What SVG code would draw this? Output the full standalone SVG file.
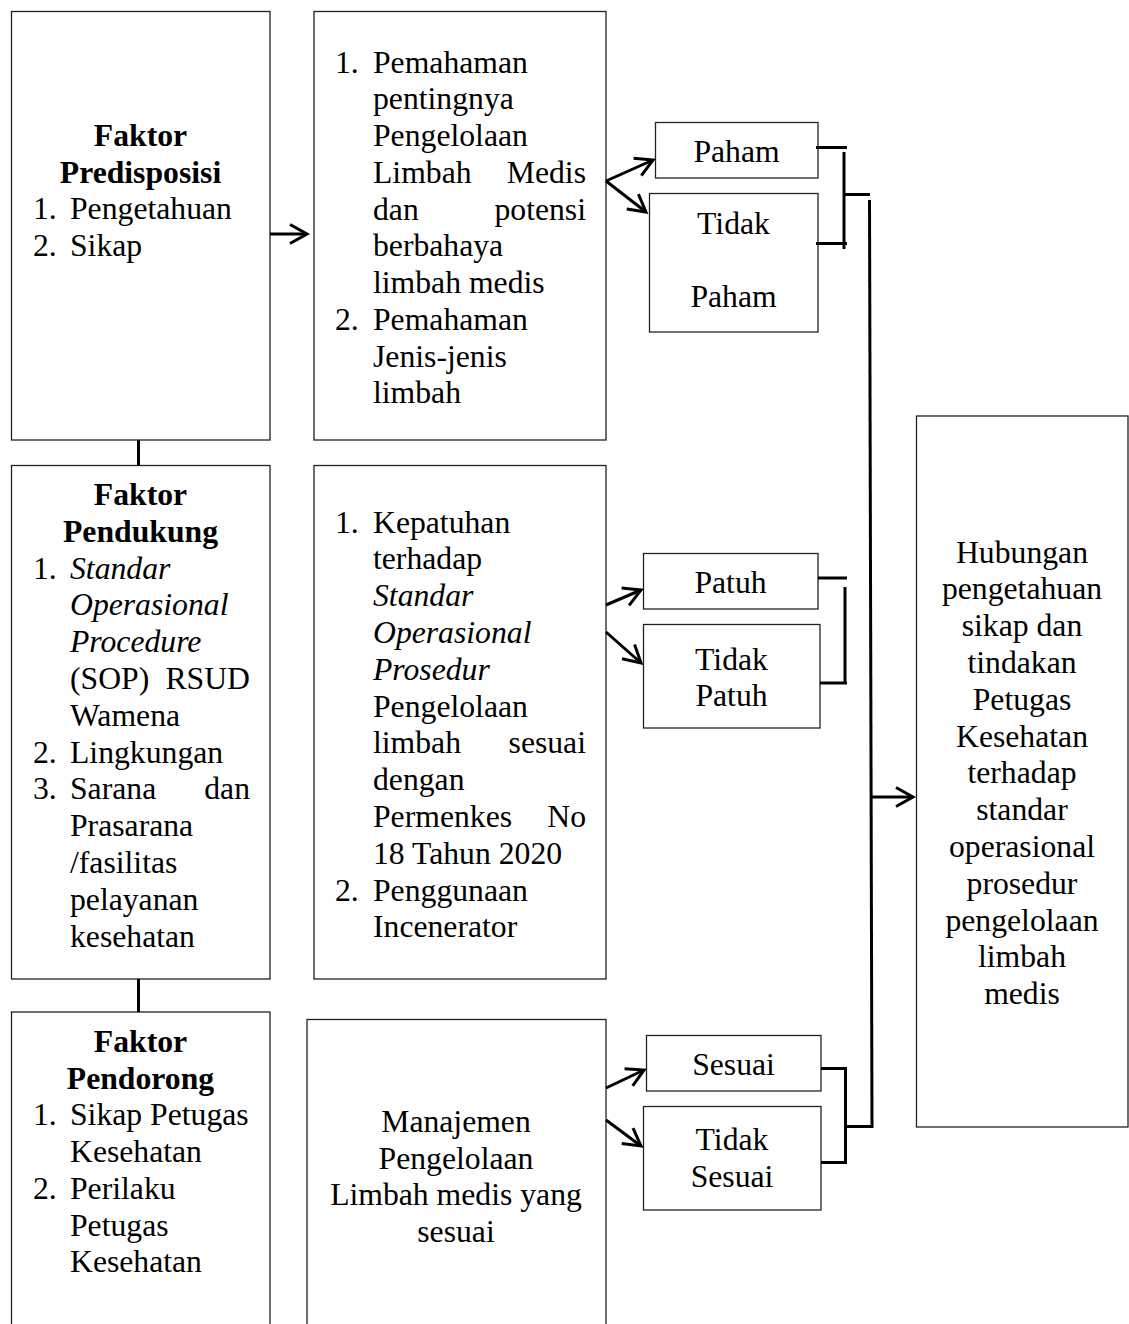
<svg xmlns="http://www.w3.org/2000/svg" width="1129" height="1324" viewBox="0 0 1129 1324">
<style>
  .box { fill: #fff; stroke: #222; stroke-width: 1.3; }
  text { font-family: "Liberation Serif", "Times New Roman", serif; font-size: 31.7px; fill: #000; }
  .b { font-weight: bold; }
  .i { font-style: italic; }
  .c { text-anchor: middle; }
  .e { text-anchor: end; }
  .con { stroke: #000; stroke-width: 3; fill: none; }
</style>
<defs>
  <marker id="arr" markerUnits="userSpaceOnUse" markerWidth="30" markerHeight="30" refX="20" refY="12" orient="auto">
    <path d="M3,2.5 L20,12 L3,21.5" fill="none" stroke="#000" stroke-width="3"/>
  </marker>
</defs>
<rect width="1129" height="1324" fill="#fff"/>

<g id="faktor-predisposisi">
  <rect class="box" x="11.5" y="11.5" width="258.5" height="428.5"/>
  <text class="b c" x="140.5" y="146">Faktor</text>
  <text class="b c" x="140.5" y="182.5">Predisposisi</text>
  <text x="33" y="219">1.</text><text x="70" y="219">Pengetahuan</text>
  <text x="33" y="255.5">2.</text><text x="70" y="255.5">Sikap</text>
</g>

<g id="pemahaman">
  <rect class="box" x="314" y="11.5" width="292" height="428.5"/>
  <text x="335" y="72.5">1.</text><text x="373" y="72.5">Pemahaman</text>
  <text x="373" y="109.3">pentingnya</text>
  <text x="373" y="146">Pengelolaan</text>
  <text x="373" y="182.8">Limbah</text><text class="e" x="586" y="182.8">Medis</text>
  <text x="373" y="219.5">dan</text><text class="e" x="586" y="219.5">potensi</text>
  <text x="373" y="256.3">berbahaya</text>
  <text x="373" y="293">limbah medis</text>
  <text x="335" y="329.8">2.</text><text x="373" y="329.8">Pemahaman</text>
  <text x="373" y="366.5">Jenis-jenis</text>
  <text x="373" y="403.3">limbah</text>
</g>

<g id="paham">
  <rect class="box" x="655.5" y="122.5" width="162.5" height="55.5"/>
  <text class="c" x="736.5" y="162">Paham</text>
</g>
<g id="tidak-paham">
  <rect class="box" x="649.5" y="193.5" width="168.5" height="138.5"/>
  <text class="c" x="733.5" y="234">Tidak</text>
  <text class="c" x="733.5" y="306.5">Paham</text>
</g>

<g id="faktor-pendukung">
  <rect class="box" x="11.5" y="465.5" width="258.5" height="513.5"/>
  <text class="b c" x="140.5" y="505">Faktor</text>
  <text class="b c" x="140.5" y="541.8">Pendukung</text>
  <text x="33" y="578.6">1.</text><text class="i" x="70" y="578.6">Standar</text>
  <text class="i" x="70" y="615.4">Operasional</text>
  <text class="i" x="70" y="652.2">Procedure</text>
  <text x="70" y="689">(SOP)</text><text class="e" x="250" y="689">RSUD</text>
  <text x="70" y="725.8">Wamena</text>
  <text x="33" y="762.6">2.</text><text x="70" y="762.6">Lingkungan</text>
  <text x="33" y="799.4">3.</text><text x="70" y="799.4">Sarana</text><text class="e" x="250" y="799.4">dan</text>
  <text x="70" y="836.2">Prasarana</text>
  <text x="70" y="873">/fasilitas</text>
  <text x="70" y="909.8">pelayanan</text>
  <text x="70" y="946.6">kesehatan</text>
</g>

<g id="kepatuhan">
  <rect class="box" x="314" y="465.5" width="292" height="513.5"/>
  <text x="335" y="532.5">1.</text><text x="373" y="532.5">Kepatuhan</text>
  <text x="373" y="569.3">terhadap</text>
  <text class="i" x="373" y="606.1">Standar</text>
  <text class="i" x="373" y="642.9">Operasional</text>
  <text class="i" x="373" y="679.7">Prosedur</text>
  <text x="373" y="716.5">Pengelolaan</text>
  <text x="373" y="753.3">limbah</text><text class="e" x="586" y="753.3">sesuai</text>
  <text x="373" y="790.1">dengan</text>
  <text x="373" y="826.9">Permenkes</text><text class="e" x="586" y="826.9">No</text>
  <text x="373" y="863.7">18 Tahun 2020</text>
  <text x="335" y="900.5">2.</text><text x="373" y="900.5">Penggunaan</text>
  <text x="373" y="937.3">Incenerator</text>
</g>

<g id="patuh">
  <rect class="box" x="643.5" y="553.5" width="174.5" height="55.5"/>
  <text class="c" x="730.5" y="593">Patuh</text>
</g>
<g id="tidak-patuh">
  <rect class="box" x="643.5" y="624.5" width="176.5" height="103.5"/>
  <text class="c" x="731.5" y="669.5">Tidak</text>
  <text class="c" x="731.5" y="706">Patuh</text>
</g>

<g id="faktor-pendorong">
  <rect class="box" x="11.5" y="1012" width="258.5" height="330"/>
  <text class="b c" x="140.5" y="1052">Faktor</text>
  <text class="b c" x="140.5" y="1088.7">Pendorong</text>
  <text x="33" y="1125.4">1.</text><text x="70" y="1125.4">Sikap Petugas</text>
  <text x="70" y="1162.1">Kesehatan</text>
  <text x="33" y="1198.8">2.</text><text x="70" y="1198.8">Perilaku</text>
  <text x="70" y="1235.5">Petugas</text>
  <text x="70" y="1272.2">Kesehatan</text>
</g>

<g id="manajemen">
  <rect class="box" x="307" y="1019.5" width="299" height="330"/>
  <text class="c" x="456" y="1132">Manajemen</text>
  <text class="c" x="456" y="1168.7">Pengelolaan</text>
  <text class="c" x="456" y="1205.4">Limbah medis yang</text>
  <text class="c" x="456" y="1242.1">sesuai</text>
</g>

<g id="sesuai">
  <rect class="box" x="646.5" y="1035.5" width="174.5" height="55.5"/>
  <text class="c" x="733.5" y="1074.5">Sesuai</text>
</g>
<g id="tidak-sesuai">
  <rect class="box" x="643.5" y="1106.5" width="177.5" height="103.5"/>
  <text class="c" x="732" y="1150">Tidak</text>
  <text class="c" x="732" y="1187">Sesuai</text>
</g>

<g id="hubungan">
  <rect class="box" x="916.5" y="416" width="211.5" height="711"/>
  <text class="c" x="1022" y="562.5">Hubungan</text>
  <text class="c" x="1022" y="599.3">pengetahuan</text>
  <text class="c" x="1022" y="636.1">sikap dan</text>
  <text class="c" x="1022" y="672.9">tindakan</text>
  <text class="c" x="1022" y="709.7">Petugas</text>
  <text class="c" x="1022" y="746.5">Kesehatan</text>
  <text class="c" x="1022" y="783.3">terhadap</text>
  <text class="c" x="1022" y="820.1">standar</text>
  <text class="c" x="1022" y="856.9">operasional</text>
  <text class="c" x="1022" y="893.7">prosedur</text>
  <text class="c" x="1022" y="930.5">pengelolaan</text>
  <text class="c" x="1022" y="967.3">limbah</text>
  <text class="c" x="1022" y="1004.1">medis</text>
</g>

<g id="connectors">
  <line class="con" x1="138.5" y1="440" x2="138.5" y2="465.5"/>
  <line class="con" x1="138.5" y1="979" x2="138.5" y2="1012"/>
  <line class="con" x1="270" y1="234" x2="307" y2="234" marker-end="url(#arr)"/>

  <line class="con" x1="606" y1="181" x2="653" y2="160" marker-end="url(#arr)"/>
  <line class="con" x1="606" y1="181" x2="646" y2="212" marker-end="url(#arr)"/>
  <path class="con" d="M816,147.5 H847 M844,152 V249 M816,243.5 H847 M844,194.5 H870"/>

  <line class="con" x1="606" y1="605" x2="641" y2="590" marker-end="url(#arr)"/>
  <line class="con" x1="606" y1="632" x2="641" y2="663" marker-end="url(#arr)"/>
  <path class="con" d="M818,578 H847 M845,587 V684 M820,683 H847"/>

  <line class="con" x1="606" y1="1088" x2="644" y2="1070" marker-end="url(#arr)"/>
  <line class="con" x1="606" y1="1120" x2="641" y2="1146" marker-end="url(#arr)"/>
  <path class="con" d="M821,1068.5 H845.5 V1164 M821,1162.5 H845.5 M845.5,1126.5 H873"/>

  <line class="con" x1="869.5" y1="200" x2="872" y2="1128"/>
  <line class="con" x1="871" y1="797" x2="913" y2="797" marker-end="url(#arr)"/>
</g>
</svg>
